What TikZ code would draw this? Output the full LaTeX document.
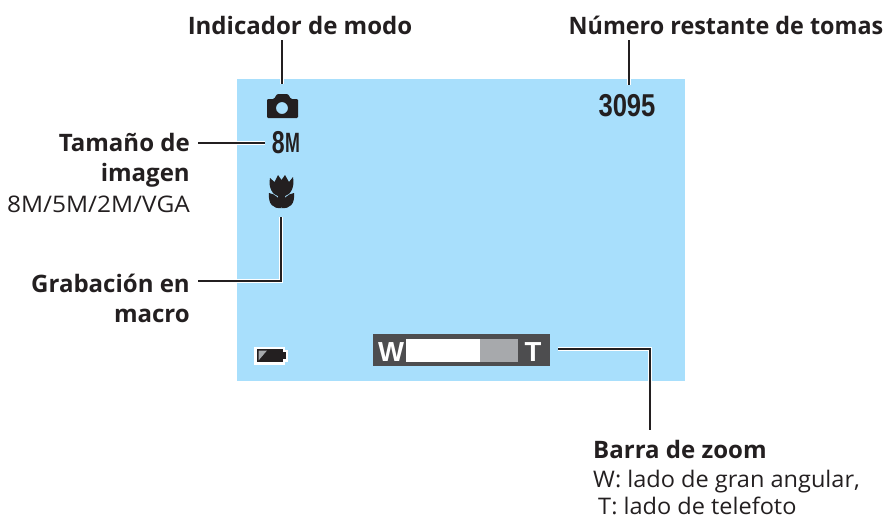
\documentclass[tikz,border=0pt]{standalone}
\usepackage{fontspec}
\setmainfont{Open Sans}
\newfontfamily\numfont{Liberation Sans}
\usetikzlibrary{positioning}
\definecolor{screenblue}{RGB}{168,223,252}
\definecolor{inkblack}{RGB}{35,31,32}
\definecolor{zoomgray}{RGB}{77,77,79}
\definecolor{zoomlight}{RGB}{167,169,172}
\tikzset{
  titletext/.style={inner sep=0pt,text=inkblack,font=\fontsize{20.5}{25.6}\selectfont\bfseries},
  plaintext/.style={inner sep=0pt,text=inkblack,font=\fontsize{19.5}{25.6}\selectfont},
  leader/.style={draw=inkblack,line width=2.2pt,preaction={draw=white,line width=3.2pt}},
  lcdnum/.style={inner sep=0pt,text=inkblack,font=\numfont\bfseries\fontsize{27}{27}\selectfont},
  zoomletter/.style={inner sep=0pt,text=white,font=\numfont\bfseries\fontsize{23.5}{23.5}\selectfont}
}
\begin{document}
\begin{tikzpicture}[x=0.03cm,y=-0.03cm]
\useasboundingbox (0,0) rectangle (887,519);
% screen
\fill [screenblue] (237,79) rectangle (685,381);
% labels
\node [titletext,anchor=base] (modo) at (300,34) {Indicador de modo};
\node [titletext,anchor=base,xscale=0.972] (tomas) at (726,34) {Número restante de tomas};
\node [titletext,anchor=base east,align=right] (tamano) at (190,181) {Tamaño de\\imagen};
\node [plaintext,anchor=base east,xscale=1.07] (tamanovals) at (190,212) {8M/5M/2M/VGA};
\node [titletext,anchor=base east,align=right] (grabacion) at (190,322) {Grabación en\\macro};
\node [titletext,anchor=base west] (barra) at (593,458) {Barra de zoom};
\node [plaintext,anchor=base west,xscale=1.03] (barrawide) at (593,487) {W: lado de gran angular,};
\node [plaintext,anchor=base west,xscale=1.03] (barratele) at (598,514.5) {T: lado de telefoto};
% screen items
\node [lcdnum,anchor=base,xscale=0.81] (contador) at (627,116) {3095};
\node [lcdnum,anchor=base east,xscale=0.73] (ocho) at (285,153) {8};
\node [lcdnum,anchor=base west,xscale=0.64,font=\numfont\bfseries\fontsize{23.8}{23.8}\selectfont] (eme) at (285,152) {M};
% camera
\coordinate (camera) at (282,84);
\fill [inkblack,even odd rule,rounded corners=1pt] (267,99) -- (274,99) -- (277,94) -- (288,94) -- (291,99) -- (298,99) -- (298,118) -- (267,118) -- cycle
  (282,108) circle (6);
% tulip
\coordinate (tulip) at (281,217);
\fill [inkblack] (270,178) -- (274.5,182) -- (278,175) -- (281.5,180) -- (285,175) -- (289,182) -- (293,177)
  .. controls (295,188) and (290,195) .. (285,196) -- (285,207) -- (278,207) -- (278,196) .. controls (273,195) and (268,188) .. (270,178) -- cycle;
\fill [inkblack] (269,193) .. controls (275,194) and (281,198) .. (281.5,208) .. controls (273,209) and (268,204) .. (269,193) -- cycle;
\fill [inkblack] (294,193) .. controls (288,194) and (282,198) .. (281.5,208) .. controls (290,209) and (295,204) .. (294,193) -- cycle;
% battery
\fill [white] (254,347) rectangle (285,365);
\fill [white] (285,350) rectangle (287.5,362);
\fill [inkblack] (257,349) rectangle (283,362);
\fill [inkblack] (283,352) rectangle (286,359);
\fill [zoomlight] (258.5,350.5) -- (267,350.5) -- (258.5,360.5) -- cycle;
% zoom bar
\node [fill=zoomgray,minimum width=151pt,inner sep=0pt,minimum height=27.3pt,anchor=north west] (zoombar) at (373,334) {};
\fill [white] (406,339) rectangle (480,362);
\fill [zoomlight] (480,339) rectangle (518,362);
\node [zoomletter,anchor=base] (wide) at (391,361) {W};
\node [zoomletter,anchor=base] (tele) at (533,361) {T};
% leaders
\coordinate (modotop) at (282,40);
\coordinate (tomastop) at (629,40);
\coordinate (contadortop) at (629,85);
\coordinate (tamanoend) at (198,143);
\coordinate (ochoend) at (265,143);
\coordinate (grabend) at (198,281);
\coordinate (zoomend) at (558,349);
\coordinate (barratop) at (650,430);
\draw [leader] (modotop) -- (camera);
\draw [leader] (tomastop) -- (contadortop);
\draw [leader] (tamanoend) -- (ochoend);
\draw [leader] (tulip) |- (grabend);
\draw [leader] (zoomend) -| (barratop);
\end{tikzpicture}
\end{document}
